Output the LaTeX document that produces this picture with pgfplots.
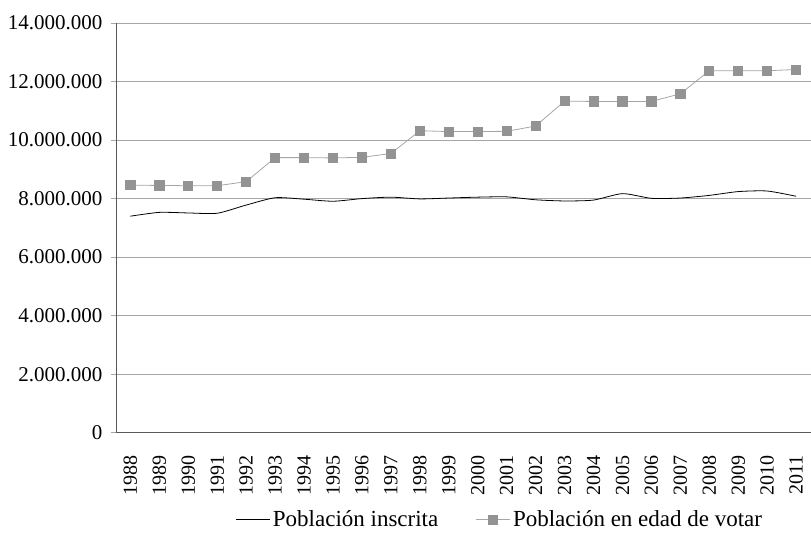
\documentclass[border=0pt]{standalone}
\usepackage{fontspec}
\setmainfont{Liberation Serif}
\usepackage{pgfplots}
\pgfplotsset{compat=1.18}

\definecolor{gridgray}{HTML}{A6A6A6}
\definecolor{markgray}{HTML}{939393}
\definecolor{axisgray}{HTML}{595959}

\begin{document}
\begin{tikzpicture}
\begin{axis}[
  scale only axis,
  width=695pt, height=410pt,
  xmin=1987.5, xmax=2011.5,
  ymin=0, ymax=14000000,
  ytick distance=2000000,
  scaled y ticks=false,
  xtick=data,
  axis lines*=left,
  axis line style={axisgray, line width=0.8pt, -},
  ymajorgrids,
  grid style={gridgray, line width=0.8pt},
  xtick style={draw=none},
  ytick style={gridgray, line width=0.8pt},
  tick align=outside,
  major tick length=5pt,
  y tick label style={font=\fontsize{21}{24}\selectfont, /pgf/number format/.cd, fixed, 1000 sep={.}, assume math mode=true},
  x tick label style={font=\fontsize{20}{23}\selectfont, rotate=90, anchor=east, /pgf/number format/.cd, 1000 sep={}, assume math mode=true},
  xticklabel shift=14pt,
  yticklabel shift=5pt,
  legend columns=2,
  legend style={draw=none, at={(axis description cs:0.553,-0.212)}, anchor=center,
    font=\fontsize{23}{26}\selectfont, /tikz/every even column/.append style={column sep=34pt},
    inner sep=0pt, nodes={inner xsep=3pt}},
  legend image code/.code={
    \draw[mark repeat=2, mark phase=2, #1] plot coordinates {(0pt,0pt) (17pt,0pt) (34pt,0pt)};
  },
]
\addplot[black, line width=0.8pt, smooth, tension=0.4] coordinates {
  (1988,7400000) (1989,7530000) (1990,7510000) (1991,7500000) (1992,7780000)
  (1993,8030000) (1994,7980000) (1995,7910000) (1996,8000000) (1997,8050000)
  (1998,7990000) (1999,8020000) (2000,8050000) (2001,8060000) (2002,7960000)
  (2003,7920000) (2004,7950000) (2005,8170000) (2006,8010000) (2007,8020000)
  (2008,8110000) (2009,8240000) (2010,8260000) (2011,8080000)
};
\addlegendentry{Población inscrita}
\addplot[gridgray, line width=0.8pt, mark=square*, mark size=4.6pt,
  mark options={draw=markgray, fill=markgray}] coordinates {
  (1988,8460000) (1989,8450000) (1990,8440000) (1991,8440000) (1992,8580000)
  (1993,9400000) (1994,9400000) (1995,9390000) (1996,9410000) (1997,9540000)
  (1998,10320000) (1999,10290000) (2000,10290000) (2001,10300000) (2002,10480000)
  (2003,11330000) (2004,11320000) (2005,11320000) (2006,11320000) (2007,11580000)
  (2008,12370000) (2009,12370000) (2010,12370000) (2011,12410000)
};
\addlegendentry{Población en edad de votar}
\end{axis}
\path[use as bounding box] (-116pt,-113pt) rectangle (695pt,433pt);
\end{tikzpicture}
\end{document}
